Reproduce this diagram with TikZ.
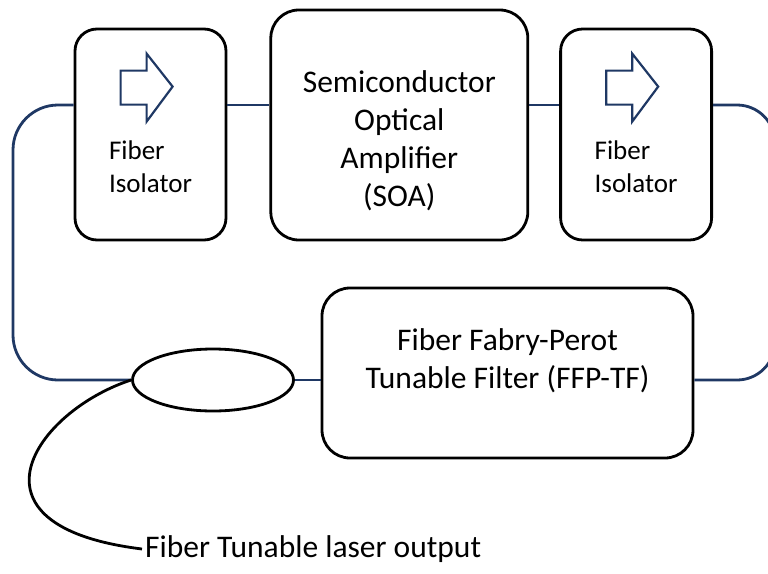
\documentclass[tikz,border=0pt]{standalone}
\usepackage{fontspec}
\setmainfont{Carlito}
\usetikzlibrary{positioning,shapes.geometric}
\definecolor{navy}{RGB}{31,56,100}

\begin{document}
\begin{tikzpicture}[x=1pt,y=-1pt,
      box/.style={draw,line width=2.8pt,rounded corners=28pt,inner sep=0pt},
      isobox/.style={box,rounded corners=22pt,minimum width=151pt,minimum height=211pt},
      fiber/.style={draw=navy,line width=2.8pt},
      isoarrow/.style={draw=navy,line width=2.2pt,line join=miter},
      bigtxt/.style={font=\fontsize{31.5}{38}\selectfont,align=center},
      smalltxt/.style={font=\fontsize{27}{33.5}\selectfont,align=left}]
      \useasboundingbox (0,0) rectangle (768,573);
      % top row
      \node[isobox] (iso1) at (150.5,134.5) {};
      \node[box,minimum width=257pt,minimum height=230pt,
            right=42pt of iso1.south east,anchor=south west] (soa) {};
      \node[isobox,right=30pt of soa.south east,anchor=south west] (iso2) {};
      \node[bigtxt] (soatxt) at ([yshift=-16pt]soa.center)
            {Semiconductor\\Optical\\Amplifier\\(SOA)};
      \node[smalltxt] (iso1txt) at ([yshift=-32pt]iso1.center) {Fiber\\Isolator};
      \node[smalltxt] (iso2txt) at ([yshift=-32pt]iso2.center) {Fiber\\Isolator};
      \draw[isoarrow,shift={(iso1.north west)}]
            (47,43) -- (73,43) -- (73,26) -- (99,59) -- (73,94) -- (73,77) -- (47,77) -- cycle;
      \draw[isoarrow,shift={(iso2.north west)}]
            (47,43) -- (73,43) -- (73,26) -- (99,59) -- (73,94) -- (73,77) -- (47,77) -- cycle;
      % bottom row
      \node[draw,ellipse,line width=2.8pt,minimum width=161pt,minimum height=62pt] (coup) at (213,380) {};
      \node[box,minimum width=371pt,minimum height=170pt] (ffp) at (507.5,373) {};
      \node[bigtxt] (ffptxt) at ([yshift=12pt]ffp.center)
            {Fiber Fabry-Perot\\Tunable Filter (FFP-TF)};
      \node[bigtxt,anchor=west,inner sep=3pt] (out) at (142,549) {Fiber Tunable laser output};
      % fibres
      \coordinate (lev) at (0,105);
      \coordinate (lx) at (13,0);
      \coordinate (rx) at (775,0);
      \draw[fiber] (iso1.east |- lev) -- (soa.west |- lev);
      \draw[fiber] (soa.east |- lev) -- (iso2.west |- lev);
      \draw[fiber,rounded corners=45pt] (iso1.west |- lev) -| (lx |- coup.west) -- (coup.west);
      \draw[fiber,rounded corners=38pt] (iso2.east |- lev) -| (rx |- coup.east) -- (ffp.east |- coup.east);
      \draw[fiber] (coup.east) -- (coup.east -| ffp.west);
      \draw[line width=2.8pt] (coup.west) .. controls (36,411) and (-45,526) .. (out.west);
    \end{tikzpicture}
\end{document}
